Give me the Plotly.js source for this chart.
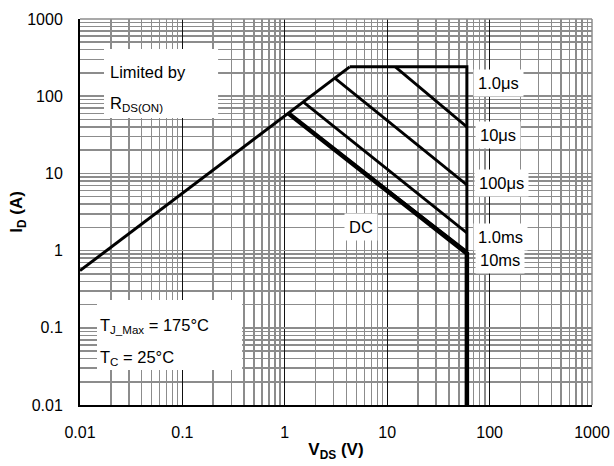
<!DOCTYPE html>
<html>
<head>
<meta charset="utf-8">
<script src="https://cdn.plot.ly/plotly-3.0.1.min.js"></script>
<style>html,body{margin:0;padding:0;background:#fff;}#chart{width:614px;height:466px;}</style>
</head>
<body>
<div id="chart"></div>
<script>
// ---- Data ----
// Axis decades and labels
const decadeVals = [0.01, 0.1, 1, 10, 100, 1000];
const decadeLabels = ['0.01', '0.1', '1', '10', '100', '1000'];
const minorMultipliers = [2, 3, 4, 5, 6, 7, 8, 9];

// R_DS(ON) limit line (V_DS in V, I_D in A)
const rdsV = [0.01, 1.08, 1.52, 3.1, 4.3];
const rdsI = [0.55, 60, 84, 170, 240];

// 1.0 µs: current limit then voltage limit
const us1V = [4.3, 60, 60];
const us1I = [240, 240, 0.97];

// 10 µs
const us10V = [12, 60];
const us10I = [240, 40];

// 100 µs
const us100V = [3.1, 60];
const us100I = [170, 7.1];

// 1.0 ms
const ms1V = [1.52, 60];
const ms1I = [84, 1.7];

// 10 ms
const ms10V = [1.08, 60];
const ms10I = [60, 0.97];

// DC
const dcV = [1.08, 60, 60];
const dcI = [60, 0.92, 0.01];

// ---- Build chart ----
const minorVals = [];
decadeVals.slice(0, -1).forEach(d => minorMultipliers.forEach(m => minorVals.push(m * d)));

function line(x, y, w) {
  return {x: x, y: y, type: 'scatter', mode: 'lines',
          line: {color: '#000', width: w}, hoverinfo: 'skip', showlegend: false};
}

const traces = [
  line(rdsV, rdsI, 3),
  line(us1V, us1I, 3),
  line(us10V, us10I, 2.8),
  line(us100V, us100I, 2.8),
  line(ms1V, ms1I, 2.8),
  line(ms10V, ms10I, 3),
  line(dcV, dcI, 4.5)
];

const FONT = 'Liberation Sans, Arial, Helvetica, sans-serif';

function boxShape(x0, x1, y0, y1) {
  return {type: 'rect', xref: 'paper', yref: 'paper', x0: x0, x1: x1, y0: y0, y1: y1,
          fillcolor: '#fff', line: {width: 0}, layer: 'above'};
}
function txt(x, y, t) {
  return {xref: 'paper', yref: 'paper', x: x, y: y, xanchor: 'left', yanchor: 'middle',
          text: t, showarrow: false, font: {family: FONT, size: 16.5, color: '#000'}};
}
function label(x, y, t) {
  return {xref: 'paper', yref: 'paper', x: x, y: y, xanchor: 'center', yanchor: 'middle',
          text: t, showarrow: false, bgcolor: '#fff', borderpad: 4,
          font: {family: FONT, size: 16.5, color: '#000'}};
}

const layout = {
  width: 614, height: 466,
  margin: {l: 80, r: 22, t: 19, b: 61},
  paper_bgcolor: '#fff', plot_bgcolor: 'rgba(0,0,0,0)',
  font: {family: FONT, color: '#000'},
  xaxis: {
    type: 'log', range: [-2, 3], autorange: false,
    tickmode: 'array', tickvals: decadeVals, ticktext: decadeLabels,
    ticks: 'outside', ticklen: 12, tickcolor: 'rgba(0,0,0,0)',
    tickfont: {family: FONT, size: 16, color: '#000'},
    showgrid: true, gridcolor: '#111', gridwidth: 1,
    minor: {tickmode: 'array', tickvals: minorVals, showgrid: true, gridcolor: '#8c8c8c', gridwidth: 1.5, ticks: ''},
    showline: true, linecolor: '#000', linewidth: 2, zeroline: false, automargin: false,
    title: {text: '<b>V<sub>DS</sub> (V)</b>', font: {family: FONT, size: 17, color: '#000'}, standoff: 3}
  },
  yaxis: {
    type: 'log', range: [-2, 3], autorange: false,
    tickmode: 'array', tickvals: decadeVals, ticktext: decadeLabels,
    ticks: 'outside', ticklen: 12, tickcolor: 'rgba(0,0,0,0)',
    tickfont: {family: FONT, size: 16, color: '#000'},
    showgrid: true, gridcolor: '#8c8c8c', gridwidth: 1.5,
    minor: {tickmode: 'array', tickvals: minorVals, showgrid: true, gridcolor: '#8c8c8c', gridwidth: 1.5, ticks: ''},
    showline: true, linecolor: '#000', linewidth: 2, zeroline: false, automargin: false,
    title: {text: '<b>I<sub>D</sub> (A)</b>', font: {family: FONT, size: 17, color: '#000'}, standoff: 0}
  },
  shapes: [
    {type: 'line', xref: 'paper', yref: 'paper', x0: 0, x1: 1, y0: 1, y1: 1, line: {color: '#8c8c8c', width: 1.5}},
    {type: 'line', xref: 'paper', yref: 'paper', x0: 1, x1: 1, y0: 0, y1: 1, line: {color: '#8c8c8c', width: 1.5}},
    boxShape(0.0469, 0.2697, 0.7435, 0.9223),
    boxShape(0.0332, 0.3166, 0.0907, 0.2720)
  ],
  annotations: [
    txt(0.0547, 0.8627, 'Limited by'),
    txt(0.0547, 0.7798, 'R<sub>DS(ON)</sub>'),
    txt(0.0358, 0.2047, 'T<sub>J_Max</sub> = 175°C'),
    txt(0.0358, 0.1218, 'T<sub>C</sub> = 25°C'),
    label(0.8175, 0.8334, '1.0μs'),
    label(0.8156, 0.6995, '10μs'),
    label(0.8237, 0.5743, '100μs'),
    label(0.8208, 0.4352, '1.0ms'),
    label(0.8208, 0.3764, '10ms'),
    label(0.5492, 0.4624, 'DC')
  ]
};

Plotly.newPlot('chart', traces, layout, {staticPlot: true, displayModeBar: false});
</script>
</body>
</html>
